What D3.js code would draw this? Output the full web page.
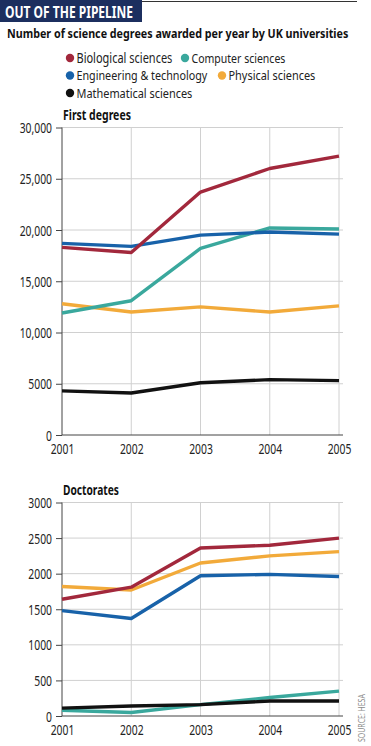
<!DOCTYPE html>
<html>
<head>
<meta charset="utf-8">
<script src="https://cdn.jsdelivr.net/npm/d3@7"></script>
<style>
  body { margin: 0; background: #fff; }
  svg text { font-family: "Noto Sans", "Open Sans", sans-serif; }
</style>
</head>
<body>
<svg id="chart" width="371" height="746"></svg>
<script>
'use strict';

// data
var years = [2001, 2002, 2003, 2004, 2005];
var subjects = ['Biological sciences', 'Computer sciences', 'Engineering & technology', 'Physical sciences', 'Mathematical sciences'];
var colours = ['#a2283c', '#3aa89d', '#1862a9', '#f2aa3a', '#111111'];

var firstBio  = [18300, 17800, 23700, 26000, 27200];
var firstComp = [11900, 13100, 18200, 20200, 20100];
var firstEng  = [18700, 18400, 19500, 19800, 19600];
var firstPhys = [12800, 12000, 12500, 12000, 12600];
var firstMath = [4300, 4100, 5100, 5400, 5300];

var docBio  = [1640, 1810, 2360, 2400, 2500];
var docComp = [80, 50, 160, 260, 350];
var docEng  = [1480, 1370, 1970, 1990, 1960];
var docPhys = [1820, 1770, 2150, 2250, 2310];
var docMath = [110, 140, 160, 210, 210];

var firstTicks = [0, 5000, 10000, 15000, 20000, 25000, 30000];
var docTicks = [0, 500, 1000, 1500, 2000, 2500, 3000];

var svg = d3.select('#chart');
var TICK_SQUEEZE = 0.74;

// the original uses a condensed face, so texts get squeezed sideways
function label(parent, x, y, str, size, weight, fill, width, extra) {
    var t = parent.append('text').attr('font-size', size).attr('font-weight', weight)
        .attr('fill', fill).text(str);
    var f = width / t.node().getComputedTextLength();
    t.attr('transform', 'translate(' + x + ',' + y + ')' + (extra || '') + ' scale(' + f + ',1)');
    return t;
}

// title block
svg.append('rect').attr('x', 0).attr('y', 0).attr('width', 142).attr('height', 22).attr('fill', '#1c2f5f');
label(svg, 5, 18, 'OUT OF THE PIPELINE', 15.5, 'bold', '#fff', 128);
svg.append('line').attr('x1', 142).attr('x2', 357).attr('y1', 1.5).attr('y2', 1.5)
    .attr('stroke', '#333').attr('stroke-width', 1);
label(svg, 7, 37.5, 'Number of science degrees awarded per year by UK universities', 13, 'bold', '#111', 342);

// legend
var legendPos = [[70, 58], [185, 58], [70, 75.5], [222, 75.5], [70, 93]];
var legendW = [96, 94, 131, 87, 116];
subjects.forEach(function(s, i) {
    var g = svg.append('g').attr('transform', 'translate(' + legendPos[i][0] + ',' + legendPos[i][1] + ')');
    g.append('circle').attr('r', 4.2).attr('fill', colours[i]);
    label(g, 6.5, 4.8, s, 13.5, 'normal', '#222', legendW[i]);
});

function drawPanel(opts) {
    var x = d3.scalePoint().domain(years).range([62, 339]);
    var y = d3.scaleLinear().domain([0, opts.max]).range([opts.bottom, opts.top]);
    var g = svg.append('g');

    // grid
    g.append('g').selectAll('line').data(opts.ticks.slice(1)).enter().append('line')
        .attr('x1', 62).attr('x2', 343)
        .attr('y1', function(d) { return y(d); }).attr('y2', function(d) { return y(d); })
        .attr('stroke', '#d0d0d0').attr('stroke-width', 1);
    g.append('g').selectAll('line').data(years.slice(1)).enter().append('line')
        .attr('x1', function(d) { return x(d); }).attr('x2', function(d) { return x(d); })
        .attr('y1', opts.top).attr('y2', opts.bottom)
        .attr('stroke', '#d0d0d0').attr('stroke-width', 1);

    // axes
    var yAxis = d3.axisLeft(y).tickValues(opts.ticks).tickSize(6).tickPadding(4)
        .tickFormat(opts.fmt);
    var ya = g.append('g').attr('transform', 'translate(62,0)').call(yAxis);
    ya.select('.domain').attr('stroke', '#444').attr('d', 'M0,' + opts.top + 'V' + opts.bottom);
    ya.selectAll('.tick line').attr('stroke', '#444');
    ya.selectAll('.tick text').attr('font-size', 14).attr('fill', '#222').attr('dy', '0.36em')
        .style('font-family', '"Noto Sans", "Open Sans", sans-serif')
        .attr('x', -10 / TICK_SQUEEZE)
        .attr('transform', 'scale(' + TICK_SQUEEZE + ',1)');

    var xAxis = d3.axisBottom(x).tickSize(0).tickPadding(9).tickFormat(d3.format('d'));
    var xa = g.append('g').attr('transform', 'translate(0,' + opts.bottom + ')').call(xAxis);
    xa.select('.domain').attr('stroke', '#444').attr('d', 'M62,0H343');
    xa.selectAll('.tick text').attr('font-size', 14).attr('fill', '#222')
        .style('font-family', '"Noto Sans", "Open Sans", sans-serif')
        .attr('transform', 'scale(' + TICK_SQUEEZE + ',1)');

    label(g, 63, opts.top - 8, opts.label, 13.5, 'bold', '#111', opts.labelW);

    var line = d3.line()
        .x(function(d, i) { return x(years[i]); })
        .y(function(d) { return y(d); });

    g.append('g').selectAll('path').data(opts.series).enter().append('path')
        .attr('d', function(d) { return line(d.values); })
        .attr('fill', 'none')
        .attr('stroke', function(d) { return d.colour; })
        .attr('stroke-width', 3.4)
        .attr('stroke-linejoin', 'round');
}

drawPanel({
    label: 'First degrees', labelW: 68, top: 127.5, bottom: 435, max: 30000, ticks: firstTicks,
    fmt: function(d) { return d >= 10000 ? d3.format(',')(d) : String(d); },
    series: [
        {values: firstPhys, colour: colours[3]},
        {values: firstComp, colour: colours[1]},
        {values: firstEng, colour: colours[2]},
        {values: firstBio, colour: colours[0]},
        {values: firstMath, colour: colours[4]}
    ]
});

drawPanel({
    label: 'Doctorates', labelW: 56, top: 502.5, bottom: 716, max: 3000, ticks: docTicks,
    fmt: function(d) { return String(d); },
    series: [
        {values: docComp, colour: colours[1]},
        {values: docMath, colour: colours[4]},
        {values: docEng, colour: colours[2]},
        {values: docPhys, colour: colours[3]},
        {values: docBio, colour: colours[0]}
    ]
});

// source note
label(svg, 365, 742, 'SOURCE: HESA', 9, 'normal', '#8a8a8a', 48, ' rotate(-90)');
</script>
</body>
</html>
